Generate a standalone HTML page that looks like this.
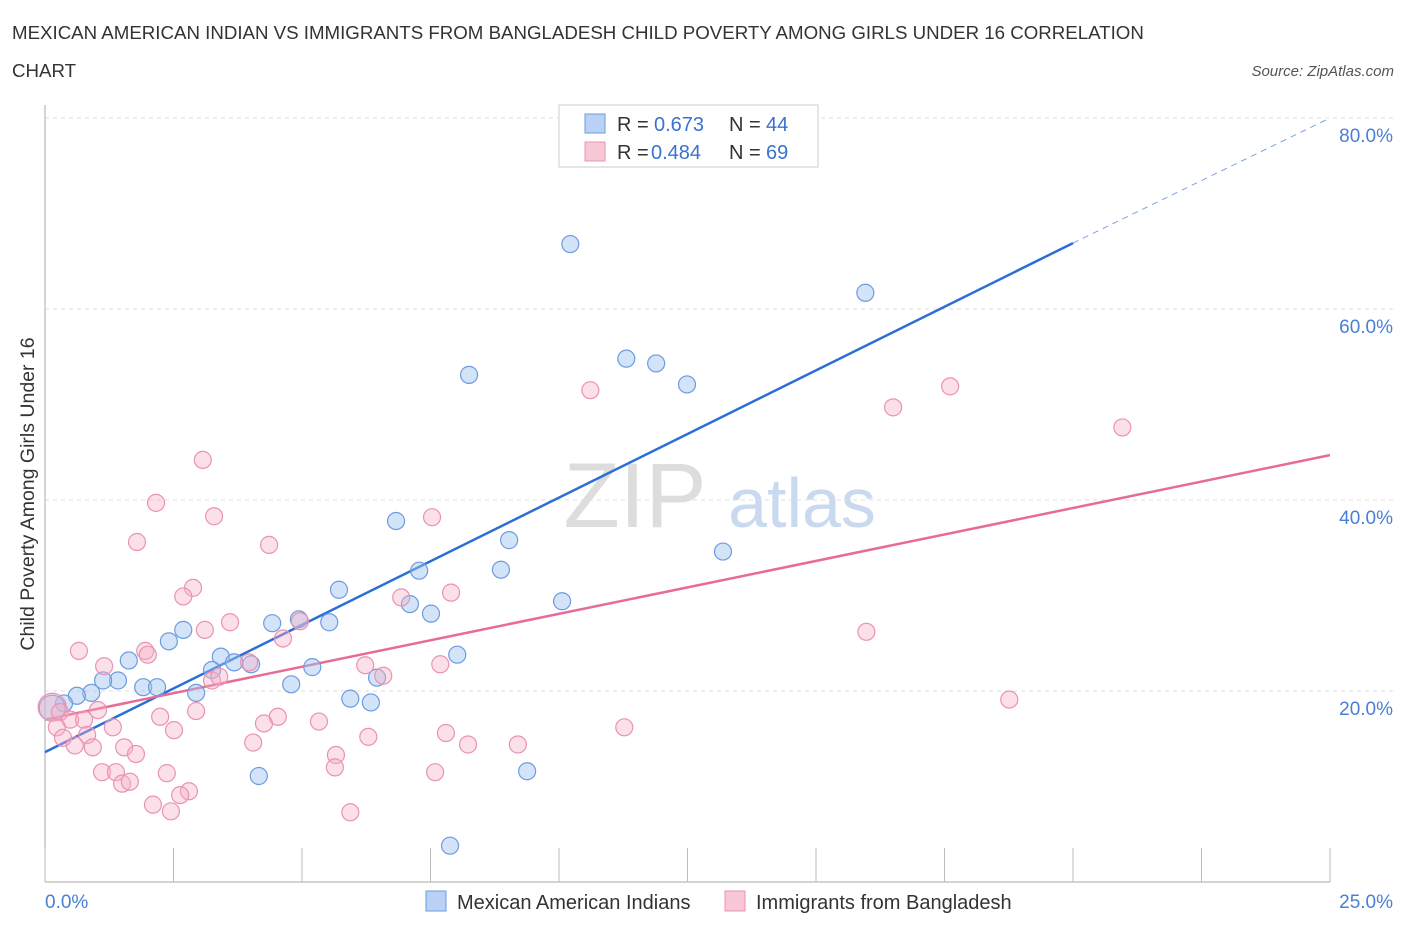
<!DOCTYPE html>
<html><head><meta charset="utf-8">
<style>
body{margin:0;background:#fff;font-family:"Liberation Sans",sans-serif;}
svg text{font-family:"Liberation Sans",sans-serif;}
</style></head>
<body>
<svg id="chart" width="1406" height="930" xmlns="http://www.w3.org/2000/svg">
<text x="12" y="39" font-size="18.7" fill="#333">MEXICAN AMERICAN INDIAN VS IMMIGRANTS FROM BANGLADESH CHILD POVERTY AMONG GIRLS UNDER 16 CORRELATION</text>
<text x="12" y="77" font-size="18.7" fill="#333">CHART</text>
<text x="1394" y="76" font-size="15" fill="#555" text-anchor="end" font-style="italic">Source: ZipAtlas.com</text>
<g>
<text x="635" y="527" font-size="92" fill="#ddd" text-anchor="middle" font-family="Liberation Serif">ZIP</text>
<text x="802" y="527" font-size="70" fill="#c9daf0" text-anchor="middle">atlas</text>
</g>
<g id="grid"></g>
<g id="axes"></g>
<g id="lines"></g>
<g id="pts"></g>
<text transform="translate(34,494) rotate(-90)" font-size="19.5" fill="#333" text-anchor="middle">Child Poverty Among Girls Under 16</text>
<g>
<rect x="559" y="105" width="259" height="62" fill="#fff" stroke="#ccc"/>
<rect x="585" y="114" width="20" height="19" fill="#b9d1f5" stroke="#6d9be0"/>
<rect x="585" y="142" width="20" height="19" fill="#f8c7d6" stroke="#ea93b0"/>
<text x="617" y="131" font-size="20" fill="#333">R =</text>
<text x="654" y="131" font-size="20" fill="#3a72d0">0.673</text>
<text x="729" y="131" font-size="20" fill="#333">N =</text>
<text x="766" y="131" font-size="20" fill="#3a72d0">44</text>
<text x="617" y="159" font-size="20" fill="#333">R =</text>
<text x="651" y="159" font-size="20" fill="#3a72d0">0.484</text>
<text x="729" y="159" font-size="20" fill="#333">N =</text>
<text x="766" y="159" font-size="20" fill="#3a72d0">69</text>
</g>
<g>
<rect x="426" y="891" width="20" height="20" fill="#b9d1f5" stroke="#6d9be0"/>
<text x="457" y="909" font-size="20" fill="#333">Mexican American Indians</text>
<rect x="725" y="891" width="20" height="20" fill="#f8c7d6" stroke="#ea93b0"/>
<text x="756" y="909" font-size="20" fill="#333">Immigrants from Bangladesh</text>
</g>
</svg>
<script>
const blueX=[10.22,15.96,8.25,11.31,11.89,12.49,6.83,9.03,13.19,7.28,8.87,5.72,10.06,7.10,7.51,2.69,4.42,4.94,5.53,2.41,8.02,1.63,3.42,3.25,3.68,4.01,5.20,1.42,1.13,1.91,2.18,2.94,4.79,6.46,5.94,6.34,0.90,0.62,0.37,0.14,4.16,9.38,7.88];
const blueY=[66.8,61.7,53.1,54.8,54.3,52.1,37.8,35.8,34.6,32.6,32.7,30.6,29.4,29.1,28.1,26.4,27.1,27.5,27.2,25.2,23.8,23.2,23.6,22.2,23.0,22.8,22.5,21.1,21.1,20.4,20.4,19.8,20.7,21.4,19.2,18.8,19.8,19.5,18.7,18.2,11.1,11.6,3.8];
const pinkX=[10.63,10.61,16.50,17.61,20.96,3.07,2.16,3.29,7.53,1.79,4.36,2.88,2.69,6.93,7.90,15.98,3.60,3.11,4.96,4.63,0.66,1.95,2.00,1.15,7.69,6.23,6.58,3.25,3.39,3.97,18.76,0.14,0.29,0.49,0.76,1.03,0.82,0.23,0.35,0.58,0.93,1.32,2.24,2.51,2.94,4.26,4.53,5.33,7.80,6.29,11.27,1.54,1.77,4.05,8.23,9.20,5.66,5.64,1.11,1.38,2.37,1.50,1.65,2.80,2.63,2.10,2.45,5.94,7.59];
const pinkY=[77.2,51.5,49.7,51.9,47.6,44.2,39.7,38.3,38.2,35.6,35.3,30.8,29.9,29.8,30.3,26.2,27.2,26.4,27.3,25.5,24.2,24.2,23.8,22.6,22.8,22.7,21.6,21.1,21.5,23.0,19.1,18.3,17.8,17.0,17.0,18.0,15.4,16.2,15.1,14.3,14.1,16.2,17.3,15.9,17.9,16.6,17.3,16.8,15.6,15.2,16.2,14.1,13.4,14.6,14.4,14.4,13.3,12.0,11.5,11.5,11.4,10.3,10.5,9.5,9.1,8.1,7.4,7.3,11.5];
const blueFit=[13.6,66.9,80.0];
const pinkFit=[17.0,44.7];
const yTicks=[20,40,60,80];
const yTickLabels=["20.0%","40.0%","60.0%","80.0%"];
const xTicks=[0,2.5,5,7.5,10,12.5,15,17.5,20,22.5,25];
const xLabels=["0.0%","25.0%"];
const NS="http://www.w3.org/2000/svg";
const X=v=>45+v/25*1285;
const Y=v=>882-v/20*191;
function mk(tag,attrs,parent){const e=document.createElementNS(NS,tag);for(const k in attrs)e.setAttribute(k,attrs[k]);document.getElementById(parent).appendChild(e);return e;}
yTicks.forEach((t,i)=>{
 const g=mk('line',{x1:45,x2:1395,y1:Y(t),y2:Y(t),stroke:'#ddd','stroke-dasharray':'4,4'},'grid');
 
 
 const l=mk('text',{x:1393,y:Y(t)+24,'font-size':19,fill:'#4a7fd6','text-anchor':'end'},'axes');l.textContent=yTickLabels[i];
 
 
});
const ax=mk('line',{x1:45,x2:45,y1:105,y2:882,stroke:'#aaa'},'axes');


const bx=mk('line',{x1:45,x2:1330,y1:882,y2:882,stroke:'#aaa'},'axes');


xTicks.forEach(t=>{const e=mk('line',{x1:X(t),x2:X(t),y1:848,y2:882,stroke:'#bbb'},'axes');
 
 });
const xl0=mk('text',{x:45,y:908,'font-size':19,fill:'#4a7fd6'},'axes');xl0.textContent=xLabels[0];


const xl1=mk('text',{x:1393,y:908,'font-size':19,fill:'#4a7fd6','text-anchor':'end'},'axes');xl1.textContent=xLabels[1];


const bl=mk('line',{x1:X(0),y1:Y(blueFit[0]),x2:X(20),y2:Y(blueFit[1]),stroke:'#2a6fd6','stroke-width':2.5},'lines');


const bd=mk('line',{x1:X(20),y1:Y(blueFit[1]),x2:X(25),y2:Y(blueFit[2]),stroke:'#7aa3e0','stroke-width':1,'stroke-dasharray':'6,5'},'lines');


const pl=mk('line',{x1:X(0),y1:Y(pinkFit[0]),x2:X(25),y2:Y(pinkFit[1]),stroke:'#e86a96','stroke-width':2.5},'lines');


blueX.forEach((x,i)=>{const c=mk('circle',{cx:X(x),cy:Y(blueY[i]),r:i===39?13:8.5,fill:'rgba(160,195,240,0.45)',stroke:'#6d9be0','stroke-width':1.2},'pts');
 
 });
pinkX.forEach((x,i)=>{const c=mk('circle',{cx:X(x),cy:Y(pinkY[i]),r:i===31?14:8.5,fill:'rgba(245,175,200,0.4)',stroke:'#ea93b0','stroke-width':1.2},'pts');
 
 });
</script>
</body></html>
